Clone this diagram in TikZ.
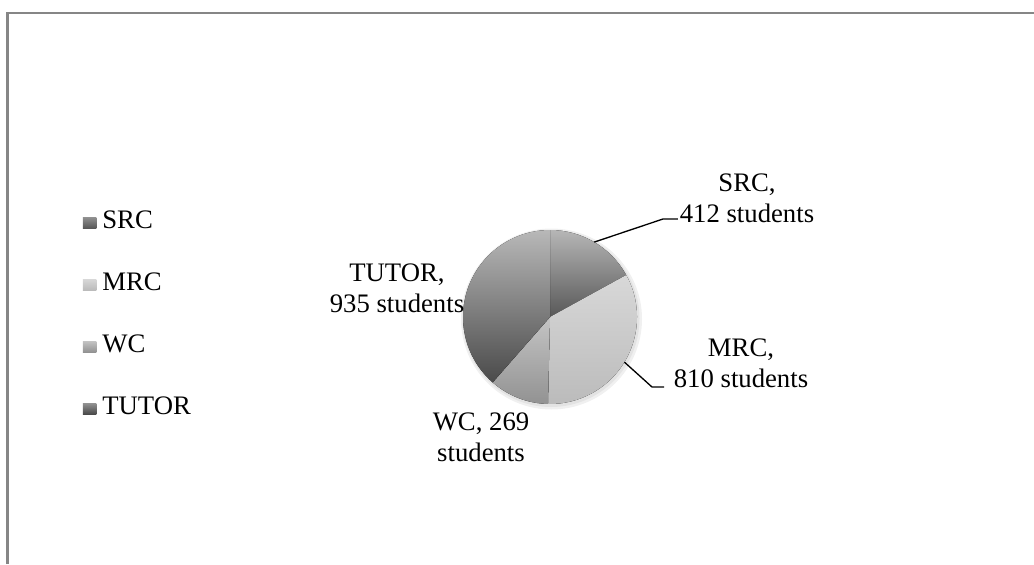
\documentclass[tikz,border=0pt]{standalone}
\usepackage{fontspec}
\setmainfont{Liberation Serif}
\usetikzlibrary{calc,positioning}

\definecolor{framegray}{HTML}{868686}
\definecolor{srctop}{HTML}{B6B6B6}
\definecolor{srcbot}{HTML}{585858}
\definecolor{mrctop}{HTML}{D8D8D8}
\definecolor{mrcbot}{HTML}{BBBBBB}
\definecolor{wctop}{HTML}{C4C4C4}
\definecolor{wcbot}{HTML}{929292}
\definecolor{tuttop}{HTML}{B8B8B8}
\definecolor{tutbot}{HTML}{4A4A4A}

\begin{document}
\begin{tikzpicture}[
  lbl/.style={font=\fontsize{15.2}{17.6}\selectfont, align=center, inner sep=1pt},
  legtxt/.style={font=\fontsize{15.2}{17.6}\selectfont, anchor=base west, inner sep=0pt},
  keybox/.style={minimum width=0.27cm, minimum height=0.22cm, inner sep=0pt},
  leader/.style={draw=black, line width=0.75pt}
]
  \useasboundingbox (0,0) rectangle (20.68,11.28);

  % Chart frame
  \draw[line width=1.4pt, draw=framegray] (0.15,0) -- (0.15,11.02) -- (20.68,11.02);

  % Soft shadow under the pie
  \coordinate (pc) at (11.00,4.94);
  \fill[black!6] ($(pc)+(0.03,-0.04)$) circle (1.81);
  \fill[black!11] ($(pc)+(0.02,-0.03)$) circle (1.77);

  % Pie slices
  \fill[top color=srctop, bottom color=srcbot] (pc) -- ++(90:1.74) arc[start angle=90, end angle=28.86, radius=1.74] -- cycle;
  \fill[top color=mrctop, bottom color=mrcbot] (pc) -- ++(28.86:1.74) arc[start angle=28.86, end angle=-91.34, radius=1.74] -- cycle;
  \fill[top color=wctop, bottom color=wcbot] (pc) -- ++(-91.34:1.74) arc[start angle=-91.34, end angle=-131.25, radius=1.74] -- cycle;
  \fill[top color=tuttop, bottom color=tutbot] (pc) -- ++(-131.25:1.74) arc[start angle=-131.25, end angle=-270, radius=1.74] -- cycle;

  % Data labels
  \node[lbl] (srclbl) at (14.94,7.32) {SRC,\\412 students};
  \node[lbl] (mrclbl) at (14.82,4.02) {MRC,\\810 students};
  \node[lbl] (wclbl) at (9.62,2.54) {WC, 269\\students};
  \node[lbl] (tutlbl) at (7.94,5.52) {TUTOR,\\935 students};

  % Leader lines
  \coordinate (srcpt) at ($(pc)+(59.43:1.74)$);
  \coordinate (srckink) at (13.26,6.90);
  \draw[leader] (srcpt) -- (srckink) -- (srckink -| srclbl.west);
  \coordinate (mrcpt) at ($(pc)+(-31.24:1.74)$);
  \coordinate (mrckink) at (13.04,3.54);
  \draw[leader] (mrcpt) -- (mrckink) -- ++(0.24,0);

  % Legend
  \node[legtxt] (srcleg) at (2.04,6.72) {SRC};
  \node[legtxt] (mrcleg) at (2.04,5.48) {MRC};
  \node[legtxt] (wcleg) at (2.04,4.24) {WC};
  \node[legtxt] (tutleg) at (2.04,3.00) {TUTOR};
  \node[keybox, top color=srctop!80!black, bottom color=srcbot] (srckey) at (1.79,6.83) {};
  \node[keybox, top color=mrctop, bottom color=mrcbot] (mrckey) at (1.79,5.59) {};
  \node[keybox, top color=wctop, bottom color=wcbot] (wckey) at (1.79,4.35) {};
  \node[keybox, top color=tuttop!80!black, bottom color=tutbot] (tutkey) at (1.79,3.11) {};
\end{tikzpicture}
\end{document}
